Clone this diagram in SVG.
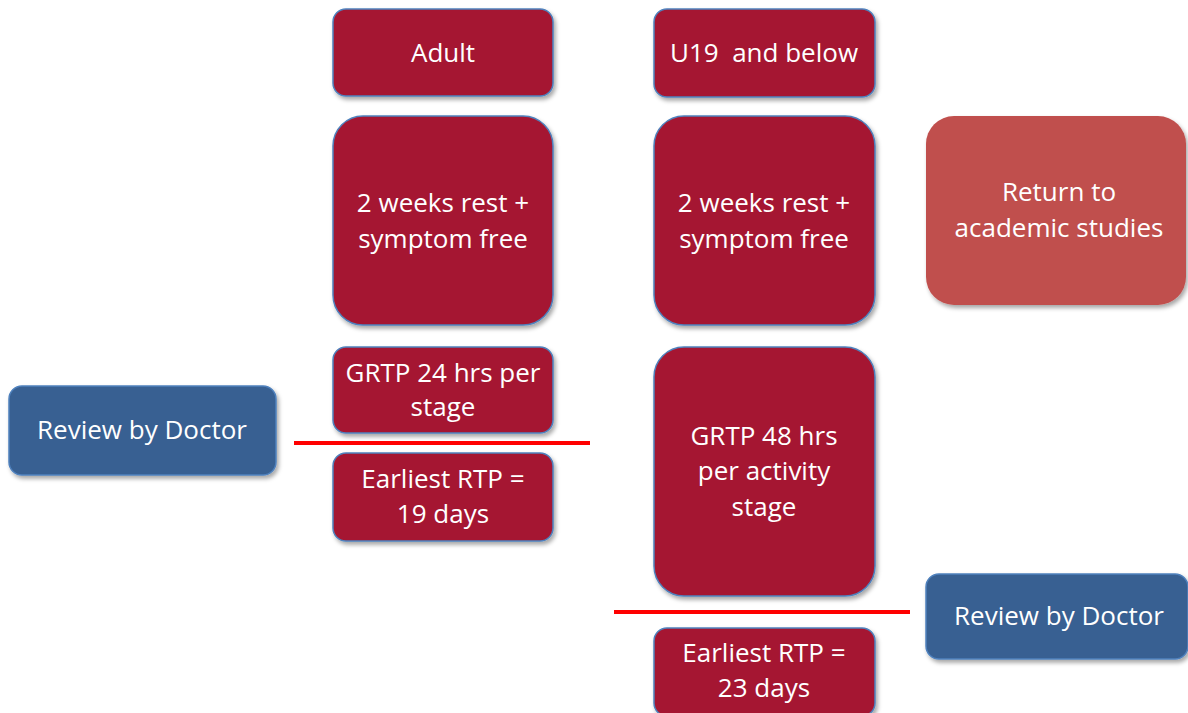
<svg xmlns="http://www.w3.org/2000/svg" width="1188" height="713" viewBox="0 0 1188 713">
<defs>
<filter id="sh" x="-10%" y="-10%" width="125%" height="130%">
<feDropShadow dx="2" dy="3" stdDeviation="2" flood-color="#000" flood-opacity="0.35"/>
</filter>
</defs>
<style>
.red{fill:#A51930;stroke:#4F81BD;stroke-width:1.5;filter:url(#sh)}
.blue{fill:#376092;stroke:#4F81BD;stroke-width:1.5;filter:url(#sh)}
.pink{fill:#C0504D;filter:url(#sh)}
text{font-family:"Open Sans","Noto Sans",sans-serif;font-size:26px;fill:#fff;text-anchor:middle;dominant-baseline:central;white-space:pre}
.sep{stroke:#FF0000;stroke-width:4}
</style>
<rect width="1188" height="713" fill="#fff"/>
<g id="adult"><rect class="red" x="333" y="9" width="220" height="87" rx="13"/><text x="443" y="52">Adult</text></g>
<g id="u19"><rect class="red" x="654" y="9" width="221" height="88" rx="13"/><text x="764" y="52" xml:space="preserve">U19  and below</text></g>
<g id="rest-adult"><rect class="red" x="333" y="116" width="220" height="209" rx="30"/><text x="443" y="202">2 weeks rest +</text><text x="443" y="238">symptom free</text></g>
<g id="rest-u19"><rect class="red" x="654" y="116" width="221" height="209" rx="30"/><text x="764" y="202">2 weeks rest +</text><text x="764" y="238">symptom free</text></g>
<g id="academic"><rect class="pink" x="926" y="116" width="260" height="189" rx="28"/><text x="1059" y="191">Return to</text><text x="1059" y="227">academic studies</text></g>
<g id="grtp24"><rect class="red" x="333" y="347" width="220" height="86" rx="13"/><text x="443" y="372">GRTP 24 hrs per</text><text x="443" y="406">stage</text></g>
<g id="review-left"><rect class="blue" x="9" y="386" width="267" height="89" rx="13"/><text x="142" y="429">Review by Doctor</text></g>
<g id="rtp19"><rect class="red" x="333" y="453" width="220" height="88" rx="13"/><text x="443" y="478">Earliest RTP =</text><text x="443" y="513">19 days</text></g>
<g id="grtp48"><rect class="red" x="654" y="347" width="221" height="249" rx="30"/><text x="764" y="435">GRTP 48 hrs</text><text x="764" y="470">per activity</text><text x="764" y="506">stage</text></g>
<g id="review-right"><rect class="blue" x="926" y="574" width="262" height="85" rx="13"/><text x="1059" y="615">Review by Doctor</text></g>
<g id="rtp23"><rect class="red" x="654" y="628" width="221" height="88" rx="13"/><text x="764" y="652">Earliest RTP =</text><text x="764" y="687">23 days</text></g>
<g id="connectors">
<line class="sep" x1="294" y1="443" x2="590" y2="443"/>
<line class="sep" x1="614" y1="612" x2="910" y2="612"/>
</g>
</svg>
